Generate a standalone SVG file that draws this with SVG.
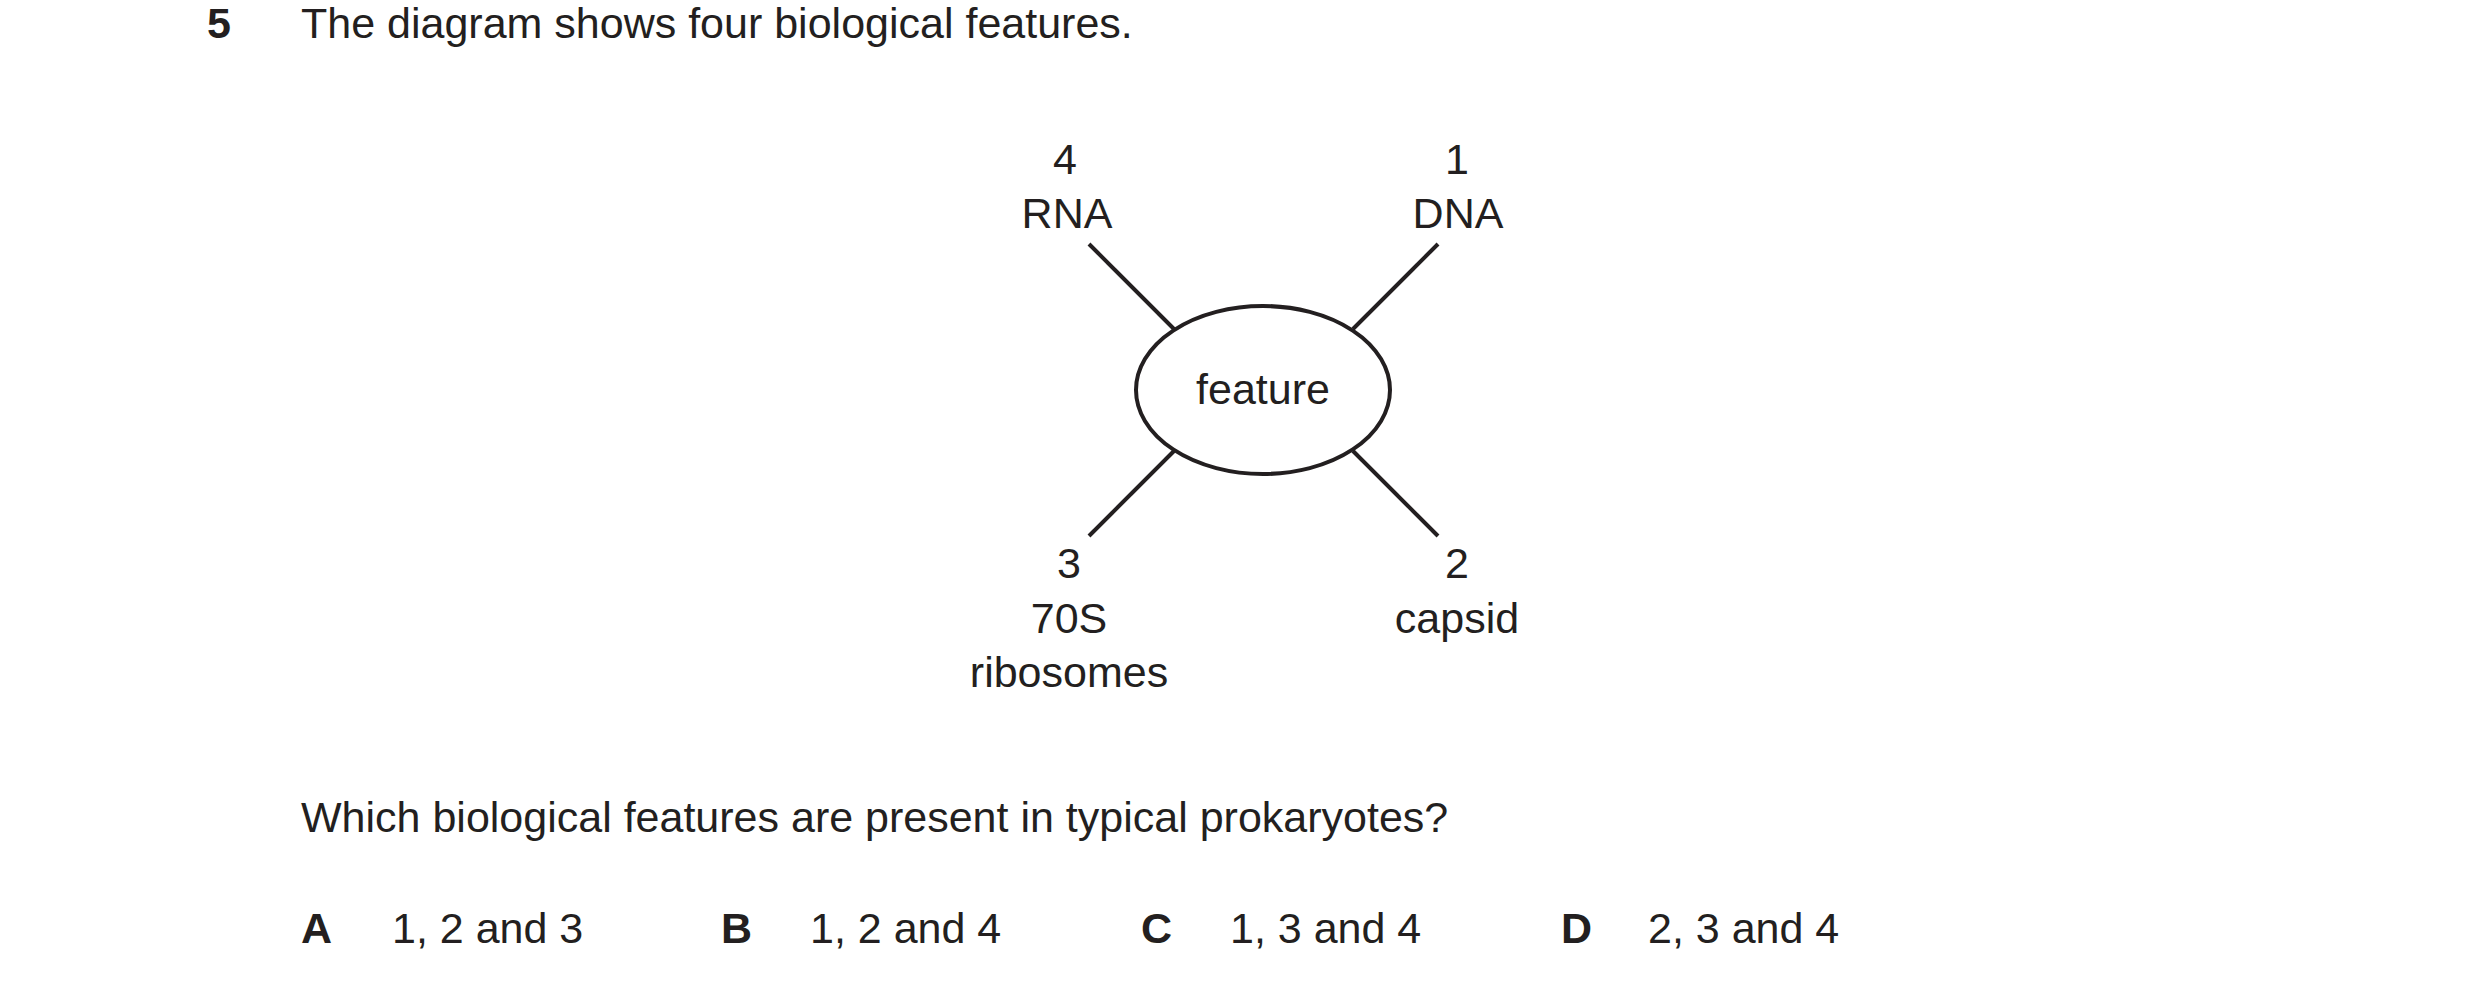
<svg xmlns="http://www.w3.org/2000/svg" width="2481" height="990" viewBox="0 0 2481 990">
<style>
text{font-family:"Liberation Sans",Arial,sans-serif;font-size:43px;fill:#231f20}
.b{font-weight:bold}
.m{text-anchor:middle}
.s{stroke:#231f20;stroke-width:4;fill:none}
</style>
<rect width="2481" height="990" fill="#fff"/>
<text class="b" x="207" y="38">5</text>
<text x="301" y="38">The diagram shows four biological features.</text>
<g id="connectors">
<line class="s" x1="1089" y1="244" x2="1174" y2="329"/>
<line class="s" x1="1438" y1="244" x2="1353" y2="329"/>
<line class="s" x1="1174" y1="451" x2="1089" y2="536"/>
<line class="s" x1="1353" y1="451" x2="1438" y2="536"/>
</g>
<g id="feature"><ellipse class="s" cx="1263" cy="390" rx="127" ry="84"/><text class="m" x="1263" y="404">feature</text></g>
<g id="n4"><text class="m" x="1065" y="174">4</text><text class="m" x="1067" y="228">RNA</text></g>
<g id="n1"><text class="m" x="1457" y="174">1</text><text class="m" x="1458" y="228">DNA</text></g>
<g id="n3"><text class="m" x="1069" y="578">3</text><text class="m" x="1069" y="633">70S</text><text class="m" x="1069" y="687">ribosomes</text></g>
<g id="n2"><text class="m" x="1457" y="578">2</text><text class="m" x="1457" y="633">capsid</text></g>
<text x="301" y="832">Which biological features are present in typical prokaryotes?</text>
<text class="b" x="301" y="943">A</text><text x="392" y="943">1, 2 and 3</text>
<text class="b" x="721" y="943">B</text><text x="810" y="943">1, 2 and 4</text>
<text class="b" x="1141" y="943">C</text><text x="1230" y="943">1, 3 and 4</text>
<text class="b" x="1561" y="943">D</text><text x="1648" y="943">2, 3 and 4</text>
</svg>
